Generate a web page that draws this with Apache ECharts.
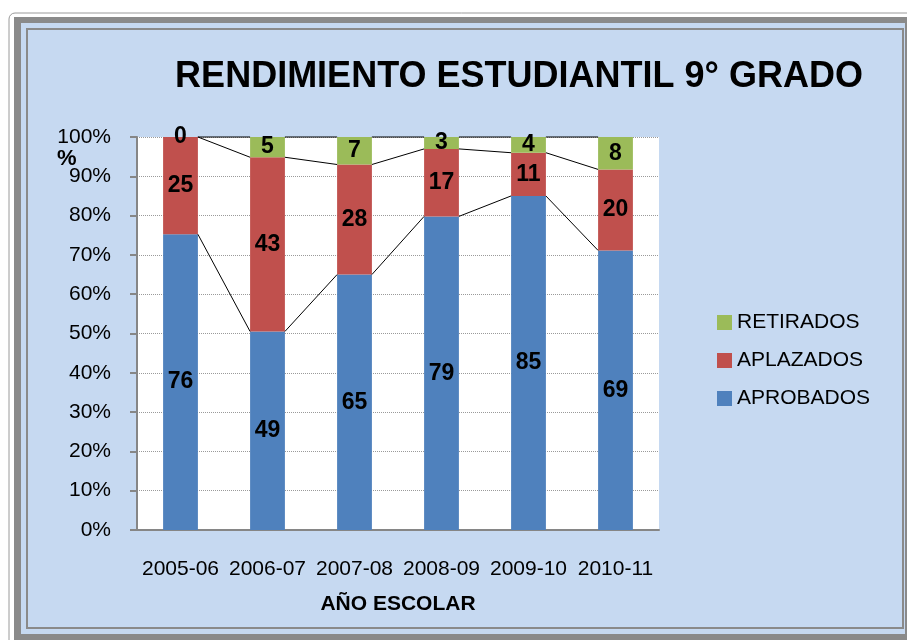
<!DOCTYPE html>
<html>
<head>
<meta charset="utf-8">
<script src="https://cdn.jsdelivr.net/npm/echarts@6/dist/echarts.min.js"></script>
<style>html,body{margin:0;padding:0;background:#fff}#main{width:907px;height:640px}</style>
</head>
<body>
<div id="main"></div>
<script>
var categories = ['2005-06', '2006-07', '2007-08', '2008-09', '2009-10', '2010-11'];
var aprobados = [76, 49, 65, 79, 85, 69];
var aplazados = [25, 43, 28, 17, 11, 20];
var retirados = [0, 5, 7, 3, 4, 8];

var font = 'Liberation Sans';
var myChart = echarts.init(document.getElementById('main'));

// 100% stacked: each column scaled to its own total
var totals = categories.map(function (c, i) { return aprobados[i] + aplazados[i] + retirados[i]; });
function pct(arr) { return arr.map(function (v, i) { return v / totals[i] * 100; }); }
var pA = pct(aprobados), pB = pct(aplazados), pC = pct(retirados);

// series lines joining segment tops between neighbouring columns
var levels = [
    pA,
    pA.map(function (v, i) { return v + pB[i]; }),
    pA.map(function (v, i) { return v + pB[i] + pC[i]; })
];
var joinData = [];
levels.forEach(function (lv) {
    for (var i = 0; i < lv.length - 1; i++) joinData.push([i, lv[i], lv[i + 1]]);
});

function barSeries(name, color, data, raw) {
    return {
        name: name,
        type: 'bar',
        stack: 'total',
        barWidth: '40%',
        data: data,
        itemStyle: { color: color },
        label: {
            show: true,
            position: 'inside',
            color: '#000',
            fontFamily: font,
            fontWeight: 'bold',
            fontSize: 23,
            formatter: function (p) { return raw[p.dataIndex]; }
        }
    };
}

option = {
    backgroundColor: '#fff',
    animation: false,
    graphic: [
        { type: 'rect', z: -10, shape: { x: 9, y: 13, width: 920, height: 640, r: 6 }, style: { fill: '#fff', stroke: '#9a9a9a', lineWidth: 1 } },
        { type: 'rect', z: -9, shape: { x: 14, y: 17, width: 920, height: 640 }, style: { fill: '#8a8a8a' } },
        { type: 'rect', z: -8, shape: { x: 21, y: 23, width: 884, height: 611 }, style: { fill: '#c6d9f1' } },
        { type: 'rect', z: -7, shape: { x: 27, y: 29, width: 876, height: 599 }, style: { fill: '#c6d9f1', stroke: '#8a8a8a', lineWidth: 2 } },
        { type: 'text', left: 57, top: 148, style: { text: '%', font: 'bold 22px "Liberation Sans"', fill: '#000' } }
    ],
    title: {
        text: 'RENDIMIENTO ESTUDIANTIL 9° GRADO',
        left: 514,
        top: 54,
        textAlign: 'center',
        textStyle: { fontFamily: font, fontWeight: 'bold', fontSize: 36, color: '#000' }
    },
    legend: {
        orient: 'vertical',
        left: 712,
        top: 307,
        itemWidth: 15,
        itemHeight: 15,
        itemGap: 17,
        icon: 'rect',
        data: ['RETIRADOS', 'APLAZADOS', 'APROBADOS'],
        textStyle: { fontFamily: font, fontSize: 21, lineHeight: 21, color: '#000' }
    },
    grid: { left: 137, right: 248, top: 137, bottom: 110, show: true, backgroundColor: '#fff', borderWidth: 0 },
    xAxis: {
        type: 'category',
        data: categories,
        name: 'AÑO ESCOLAR',
        nameLocation: 'middle',
        nameGap: 64,
        nameTextStyle: { fontFamily: font, fontWeight: 'bold', fontSize: 21, color: '#000' },
        axisLine: { lineStyle: { color: '#868686', width: 2 } },
        axisTick: { length: 7, lineStyle: { color: '#868686', width: 2 } },
        axisLabel: { interval: 0, margin: 29, fontFamily: font, fontSize: 21, color: '#000' }
    },
    yAxis: {
        type: 'value',
        min: 0,
        max: 100,
        interval: 10,
        axisLine: { show: true, lineStyle: { color: '#868686', width: 2 } },
        axisTick: { show: true, length: 7, lineStyle: { color: '#868686', width: 2 } },
        axisLabel: { margin: 26, fontFamily: font, fontSize: 21, color: '#000', formatter: '{value}%' },
        splitLine: { lineStyle: { color: '#9a9a9a', type: 'dotted', width: 1 } }
    },
    series: [
        barSeries('APROBADOS', '#4f81bd', pA, aprobados),
        barSeries('APLAZADOS', '#c0504d', pB, aplazados),
        barSeries('RETIRADOS', '#9bbb59', pC, retirados),
        {
            name: 'joins',
            type: 'custom',
            z: 5,
            silent: true,
            data: joinData,
            encode: { x: 0, y: [1, 2] },
            renderItem: function (params, api) {
                var i = api.value(0);
                var p1 = api.coord([i, api.value(1)]);
                var p2 = api.coord([i + 1, api.value(2)]);
                var half = api.size([1, 0])[0] * 0.2;
                return {
                    type: 'line',
                    shape: { x1: p1[0] + half, y1: p1[1], x2: p2[0] - half, y2: p2[1] },
                    style: { stroke: '#000', lineWidth: 1 }
                };
            }
        }
    ]
};
myChart.setOption(option);
</script>
</body>
</html>
